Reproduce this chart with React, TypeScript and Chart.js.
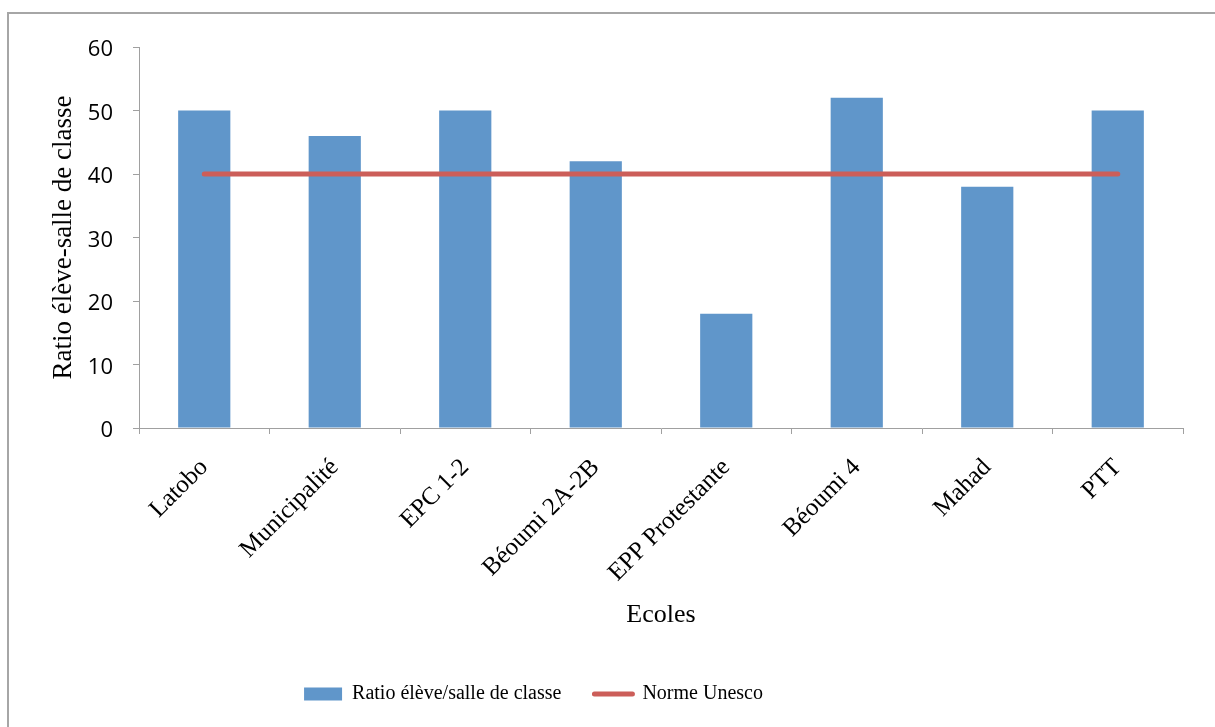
import { useEffect, useRef } from "react";
import { Chart, registerables } from "chart.js";

Chart.register(...registerables);

// Schools and their pupil/classroom ratios
const schools = [
  "Latobo",
  "Municipalité",
  "EPC 1-2",
  "Béoumi 2A-2B",
  "EPP Protestante",
  "Béoumi 4",
  "Mahad",
  "PTT",
];
const ratioValues = [50, 46, 50, 42, 18, 52, 38, 50];
const unescoNorm = [40, 40, 40, 40, 40, 40, 40, 40];

const barLabel = "Ratio élève/salle de classe";
const lineLabel = "Norme Unesco";
const xTitle = "Ecoles";
const yTitle = "Ratio élève-salle de classe";
const yMin = 0;
const yMax = 60;
const yStep = 10;

const BAR_COLOR = "#6096CA";
const LINE_COLOR = "#CC5E59";
const AXIS_COLOR = "#A0A0A0";
const SERIF = "'Liberation Serif', 'Times New Roman', serif";
const SANS = "'Open Sans', 'Liberation Sans', sans-serif";

export default function App() {
  const canvasRef = useRef<HTMLCanvasElement | null>(null);

  useEffect(() => {
    const canvas = canvasRef.current;
    if (!canvas) return;

    // nudge the legend row to the left of centre
    const legendShift = {
      id: "legendShift",
      afterLayout(chart: any) {
        const lg = chart.legend;
        if (lg) {
          lg.left -= 58;
          lg.right -= 58;
        }
      },
    };

    const chart = new Chart(canvas, {
      type: "bar",
      data: {
        labels: schools,
        datasets: [
          {
            type: "bar",
            label: barLabel,
            data: ratioValues,
            backgroundColor: BAR_COLOR,
            borderWidth: 0,
            barPercentage: 0.4,
            categoryPercentage: 1,
            order: 1,
          },
          {
            type: "line",
            label: lineLabel,
            data: unescoNorm,
            borderColor: LINE_COLOR,
            backgroundColor: LINE_COLOR,
            borderWidth: 5,
            borderCapStyle: "round",
            pointRadius: 0,
            fill: false,
            order: 0,
          },
        ],
      },
      options: {
        responsive: false,
        animation: false,
        layout: { padding: { left: 0, right: 32, top: 47, bottom: 13 } },
        plugins: {
          tooltip: { enabled: false },
          legend: {
            position: "bottom",
            labels: {
              usePointStyle: true,
              pointStyleWidth: 38,
              boxWidth: 38,
              boxHeight: 13,
              padding: 33,
              color: "#000",
              font: { family: SERIF, size: 20 },
              generateLabels: (c: any) =>
                c.data.datasets.map((ds: any, i: number) => ({
                  text: ds.label,
                  fillStyle: i === 0 ? BAR_COLOR : LINE_COLOR,
                  strokeStyle: i === 0 ? BAR_COLOR : LINE_COLOR,
                  lineWidth: i === 0 ? 0 : 5,
                  lineCap: "round",
                  pointStyle: i === 0 ? "rect" : "line",
                  hidden: false,
                  datasetIndex: i,
                  fontColor: "#000",
                })),
            },
          },
        },
        scales: {
          x: {
            offset: true,
            grid: {
              offset: true,
              drawOnChartArea: false,
              tickLength: 6,
              color: AXIS_COLOR,
            },
            border: { color: AXIS_COLOR, width: 1 },
            ticks: {
              autoSkip: false,
              minRotation: 45,
              maxRotation: 45,
              padding: 19,
              color: "#000",
              font: { family: SERIF, size: 25 },
            },
            title: {
              display: true,
              text: xTitle,
              color: "#000",
              font: { family: SERIF, size: 26 },
              padding: { top: 0, bottom: 20 },
            },
            afterFit: (s: any) => {
              s.height = 223;
            },
          },
          y: {
            min: yMin,
            max: yMax,
            ticks: {
              stepSize: yStep,
              padding: 20,
              labelOffset: 3,
              color: "#000",
              font: { family: SANS, size: 22 },
            },
            grid: {
              drawOnChartArea: false,
              tickLength: 6,
              color: AXIS_COLOR,
            },
            border: { color: AXIS_COLOR, width: 1 },
            title: {
              display: true,
              text: yTitle,
              color: "#000",
              font: { family: SERIF, size: 27 },
              padding: { top: 48, bottom: 0 },
            },
            afterFit: (s: any) => {
              s.width = 139;
            },
          },
        },
      },
      plugins: [legendShift],
    } as any);

    return () => chart.destroy();
  }, []);

  return (
    <div
      style={{
        position: "fixed",
        left: 0,
        top: 0,
        width: 1215,
        height: 727,
        overflow: "hidden",
        background: "#fff",
      }}
    >
      <div
        style={{
          position: "absolute",
          left: 7,
          top: 12,
          width: 1400,
          height: 900,
          borderLeft: "2px solid #A6A6A6",
          borderTop: "2px solid #A6A6A6",
        }}
      />
      <canvas
        ref={canvasRef}
        width={1215}
        height={727}
        style={{ position: "absolute", left: 0, top: 0, width: 1215, height: 727 }}
      />
    </div>
  );
}
